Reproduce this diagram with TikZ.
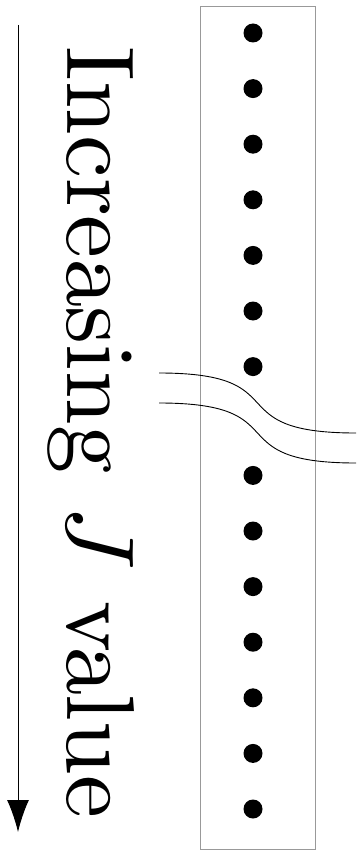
\RequirePackage{fix-cm}
\documentclass[tikz,border=0pt]{standalone}
\usetikzlibrary{arrows.meta}

\begin{document}
\begin{tikzpicture}[x=1pt,y=-1pt]
      \useasboundingbox (0,0) rectangle (358,853);

      % direction arrow
      \draw[line width=1pt,-{Latex[length=32pt,width=22pt]}] (18,25) -- (18,832);
      \node[rotate=-90,anchor=base,inner sep=0pt,scale=9.65,font=\fontencoding{OT1}\fontfamily{cmr}\selectfont] (label) at (67,432.5) {Increasing $J$ value};

      % column of levels
      \draw[gray!80,line width=0.9pt] (200,6) rectangle (315,849);
      \foreach \i in {0,...,6} {
        \fill (253,33+55.6*\i) circle (9.5pt);
        \fill (253,475.4+55.6*\i) circle (9.5pt);
      }

      % break marks
      \draw[line width=0.9pt] (159,373) .. controls (300,373) and (215,433) .. (356,433);
      \draw[line width=0.9pt] (159,403) .. controls (300,403) and (215,463) .. (356,463);
    \end{tikzpicture}
\end{document}
